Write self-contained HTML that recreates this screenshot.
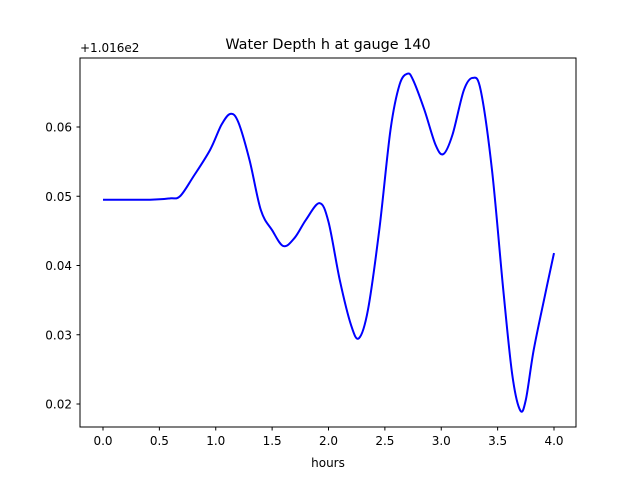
<!DOCTYPE html>
<html><head><meta charset="utf-8"><style>
body{margin:0;background:#fff;}
svg text{font-family:"DejaVu Sans","Liberation Sans",sans-serif;fill:#000;}
</style></head><body>
<svg id="chart" width="640" height="480" xmlns="http://www.w3.org/2000/svg">
<rect width="640" height="480" fill="#fff"/>
<text x="328" y="49" font-size="14.4" text-anchor="middle">Water Depth h at gauge 140</text>
<text x="80" y="52" font-size="12">+1.016e2</text>
<text x="328" y="467" font-size="12" text-anchor="middle">hours</text>
<g id="ticks"></g>
<path id="line" fill="none" stroke="#0000ff" stroke-width="2"/>
<rect x="80" y="58" width="496" height="369" fill="none" stroke="#000" stroke-width="1"/>
</svg>
<script>
const hours=[0,0.417,0.594,0.683,0.8,0.95,1.05,1.13,1.2,1.3,1.4,1.5,1.6,1.7,1.8,1.92,2.0,2.1,2.2,2.27,2.35,2.45,2.55,2.63,2.7,2.75,2.85,2.95,3.02,3.1,3.2,3.28,3.35,3.45,3.55,3.63,3.7,3.75,3.82,3.92,4.0];
const depth=[0.0495,0.0495,0.0497,0.0500,0.0528,0.0567,0.0603,0.0619,0.0607,0.0552,0.0480,0.0451,0.0428,0.0440,0.0466,0.0490,0.0463,0.0379,0.0314,0.0295,0.0336,0.0451,0.0596,0.0661,0.0677,0.0668,0.0625,0.0574,0.0561,0.0589,0.0653,0.0671,0.0653,0.0538,0.0365,0.0242,0.0191,0.0206,0.0278,0.0357,0.0418];
const xTicks=[0,0.5,1,1.5,2,2.5,3,3.5,4];
const xTickLabels=["0.0","0.5","1.0","1.5","2.0","2.5","3.0","3.5","4.0"];
const yTicks=[0.02,0.03,0.04,0.05,0.06];
const yTickLabels=["0.02","0.03","0.04","0.05","0.06"];
const X=t=>103+t*112.75;
const Y=v=>404-(v-0.02)*6925;
const NS="http://www.w3.org/2000/svg";
const g=document.getElementById('ticks');
function mk(tag,attrs){const e=document.createElementNS(NS,tag);for(const k in attrs)e.setAttribute(k,attrs[k]);g.appendChild(e);return e;}
xTicks.forEach((t,i)=>{
 const l=mk('line',{x1:X(t),x2:X(t),y1:427,y2:430.5,stroke:'#000'});
 
 
 const s=mk('text',{x:X(t),y:445,'font-size':12,'text-anchor':'middle'});s.textContent=xTickLabels[i];
 
 
});
yTicks.forEach((v,i)=>{
 const l=mk('line',{x1:76.5,x2:80,y1:Y(v),y2:Y(v),stroke:'#000'});
 
 
 const s=mk('text',{x:72,y:Y(v)+4.5,'font-size':12,'text-anchor':'end'});s.textContent=yTickLabels[i];
 
 
});
const P=hours.map((t,i)=>[X(t),Y(depth[i])]);
let d=`M${P[0][0]},${P[0][1]}`;
for(let i=0;i<P.length-1;i++){
 const p0=P[Math.max(0,i-1)],p1=P[i],p2=P[i+1],p3=P[Math.min(P.length-1,i+2)];
 const c1=[p1[0]+(p2[0]-p0[0])/6,p1[1]+(p2[1]-p0[1])/6];
 const c2=[p2[0]-(p3[0]-p1[0])/6,p2[1]-(p3[1]-p1[1])/6];
 d+=` C${c1[0]},${c1[1]} ${c2[0]},${c2[1]} ${p2[0]},${p2[1]}`;
}
document.getElementById('line').setAttribute('d',d);
</script>
</body></html>
